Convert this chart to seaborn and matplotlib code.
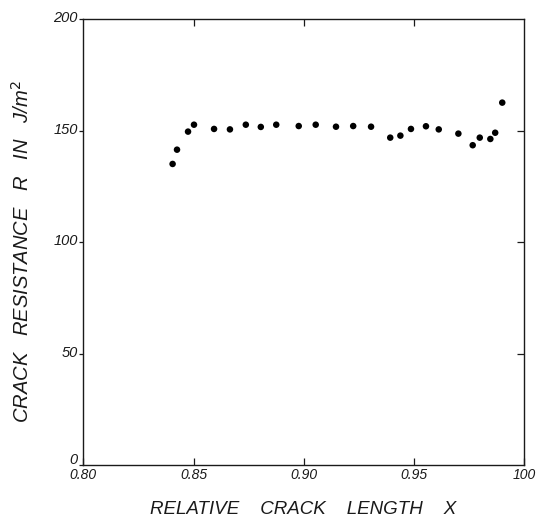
import matplotlib
matplotlib.use("Agg")
import matplotlib.pyplot as plt
import matplotlib.transforms as mtransforms
import seaborn as sns
import pandas as pd

# Data
crack_length = [0.8405, 0.8425, 0.8475, 0.8502, 0.8593, 0.8665, 0.8737, 0.8805,
                0.8875, 0.8977, 0.9054, 0.9146, 0.9224, 0.9305, 0.9392, 0.9438,
                0.9486, 0.9554, 0.9612, 0.9701, 0.9766, 0.9798, 0.9846, 0.9868,
                0.9900]
crack_resistance = [135.0, 141.4, 149.5, 152.6, 150.7, 150.5, 152.6, 151.6,
                    152.6, 152.0, 152.6, 151.7, 152.0, 151.7, 146.8, 147.7,
                    150.7, 151.9, 150.5, 148.6, 143.4, 146.8, 146.2, 149.0,
                    162.5]
x_ticks = [0.80, 0.85, 0.90, 0.95, 1.00]
x_tick_labels = ["0.80", "0.85", "0.90", "0.95", "100"]
y_ticks = [0, 50, 100, 150, 200]
y_tick_labels = ["0", "50", "100", "150", "200"]

df = pd.DataFrame({"x": crack_length, "R": crack_resistance})

sns.set_style("white")
plt.rcParams["font.family"] = ["Liberation Sans", "DejaVu Sans"]

fig = plt.figure(figsize=(5.38, 5.22), dpi=100)
ax = fig.add_axes([83.3 / 538, 1 - 465 / 522, (524.3 - 83.3) / 538, (465 - 19) / 522])

sns.scatterplot(data=df, x="x", y="R", ax=ax, color="black", s=22,
                edgecolor="none", linewidth=0, legend=False)

ax.set_xlim(0.80, 1.00)
ax.set_ylim(0, 200)

ink = "#1a1a1a"
for sp in ax.spines.values():
    sp.set_color(ink)
    sp.set_linewidth(1.0)
    sp.set_visible(True)

ax.set_xticks(x_ticks)
ax.set_xticklabels(x_tick_labels, fontstyle="italic", fontsize=10, color=ink)
ax.set_yticks(y_ticks)
ax.set_yticklabels(y_tick_labels, fontstyle="italic", fontsize=10.5, color=ink)

ax.tick_params(axis="x", direction="in", length=5, width=0.9, color=ink,
               pad=2, bottom=True, top=False)
ax.tick_params(axis="y", direction="out", length=3, width=0.9, color=ink,
               pad=1, left=True, right=False)

# lift the y tick labels slightly, as in the reference (the "0" a bit more)
for lbl in ax.get_yticklabels():
    dy = 5.0 if lbl.get_text() == "0" else 1.5
    shift = mtransforms.ScaledTranslation(0, dy / 72, fig.dpi_scale_trans)
    lbl.set_transform(lbl.get_transform() + shift)

# inner ticks on top and right
sec_top = ax.secondary_xaxis("top")
sec_top.set_xticks([0.85, 0.90, 0.95])
sec_top.tick_params(direction="in", length=5, width=0.9, color=ink, labeltop=False)
sec_top.spines["top"].set_visible(False)
sec_right = ax.secondary_yaxis("right")
sec_right.set_yticks([50, 100, 150])
sec_right.tick_params(direction="in", length=5, width=0.9, color=ink, labelright=False)
sec_right.spines["right"].set_visible(False)

ax.set_xlabel("RELATIVE    CRACK    LENGTH    X", fontstyle="italic", fontsize=13.5,
              color=ink)
ax.xaxis.set_label_coords(0.498, -0.080)
ax.set_ylabel("CRACK   RESISTANCE   R   IN   J/m$^{2}$", fontstyle="italic",
              fontsize=14.5, color=ink)
ax.yaxis.set_label_coords(-0.114, 0.478)

fig.savefig("out.png", dpi=100)
